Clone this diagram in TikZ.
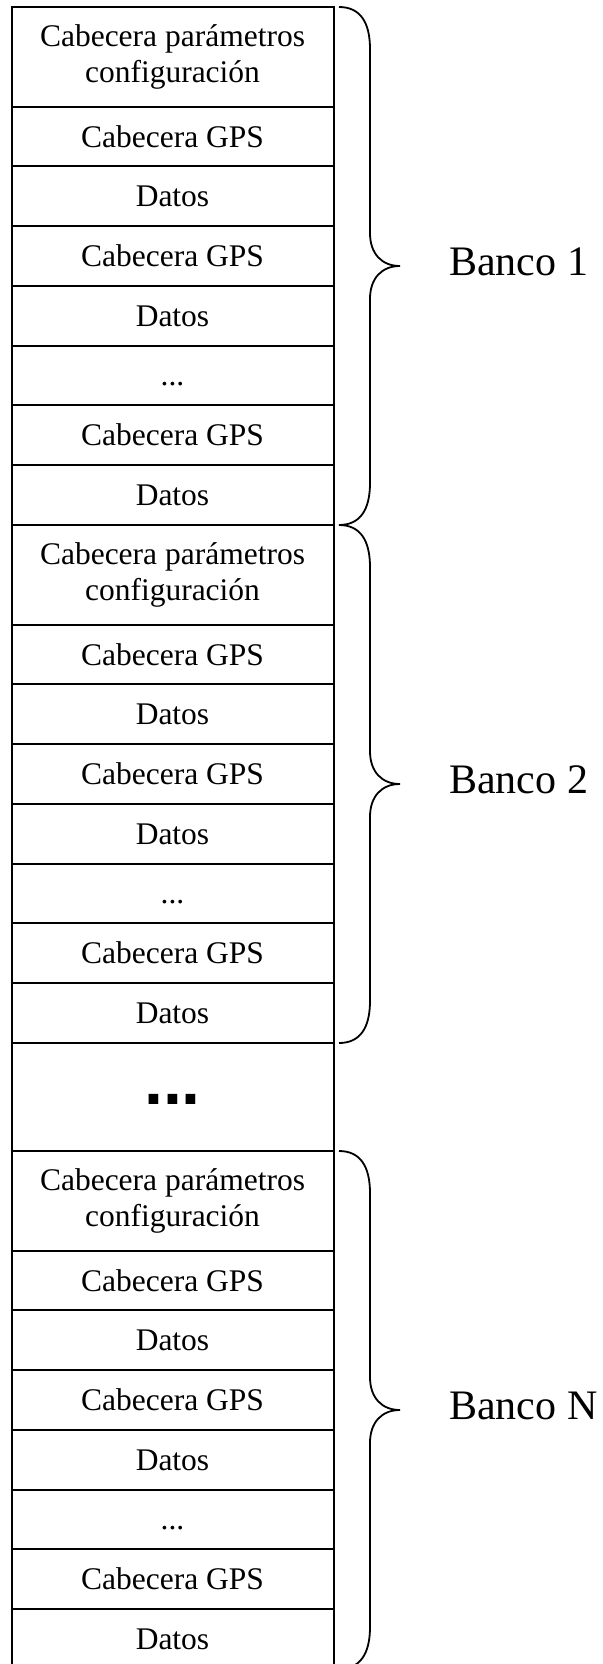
\documentclass[tikz,border=0pt]{standalone}
\usepackage{fontspec}
\setmainfont{Liberation Serif}
\newfontfamily\dotsans{Liberation Sans}
\newcommand\celldots{...}
\begin{document}
\begin{tikzpicture}[x=1pt,y=-1pt,
  basecell/.style={draw, line width=2pt, minimum width=322pt, inner sep=0pt, outer sep=0pt,
    anchor=north west, font=\fontsize{31.5}{36}\selectfont},
  tallcell/.style={basecell, minimum height=99.7pt, align=center},
  rowcell/.style={basecell, minimum height=59.73pt, text height=20.9pt, text depth=0pt},
  gapcell/.style={basecell, minimum height=108pt, font=\dotsans\bfseries\fontsize{68}{70}\selectfont, text height=15pt, text depth=0pt},
  bracepath/.style={draw, line width=1.8pt},
  banklabel/.style={anchor=base west, inner sep=0pt, font=\fontsize{42}{48}\selectfont}]
\useasboundingbox (0,0) rectangle (602,1664);
\clip (0,0) rectangle (602,1664);
\fill[white] (0,0) rectangle (602,1664);

\newcommand\mkbank[3]{%
  % #1 id, #2 top, #3 label
  \node[tallcell] (#1-0) at (11.5,#2) {Cabecera parámetros\\configuración};
  \foreach \t [count=\i] in {Cabecera GPS, Datos, Cabecera GPS, Datos, \celldots, Cabecera GPS, Datos}{
    \node[rowcell] (#1-\i) at (11.5,{#2+99.7+(\i-1)*59.73}) {\t};
  }
  \coordinate (#1-bt) at (339,#2);
  \coordinate (#1-bm) at (400,{#2+259});
  \coordinate (#1-bb) at (339,{#2+518});
  \path[bracepath] (#1-bt) .. controls +(21,0) and +(0,-27) .. ++(31,42)
     -- ([xshift=-30pt,yshift=33pt]#1-bm) .. controls +(0,21) and +(-18,0) .. (#1-bm)
     .. controls +(-18,0) and +(0,-21) .. ([xshift=-30pt,yshift=-33pt]#1-bm)
     -- ([xshift=31pt,yshift=42pt]#1-bb) .. controls +(0,27) and +(21,0) .. (#1-bb);
  \node[banklabel] (#1-label) at (449,{#2+268}) {#3};
}

\mkbank{b1}{7}{Banco 1}
\mkbank{b2}{525}{Banco 2}
\node[gapcell] (gap) at (11.5,1043) {...};
\mkbank{bN}{1151}{Banco N}
\end{tikzpicture}
\end{document}
